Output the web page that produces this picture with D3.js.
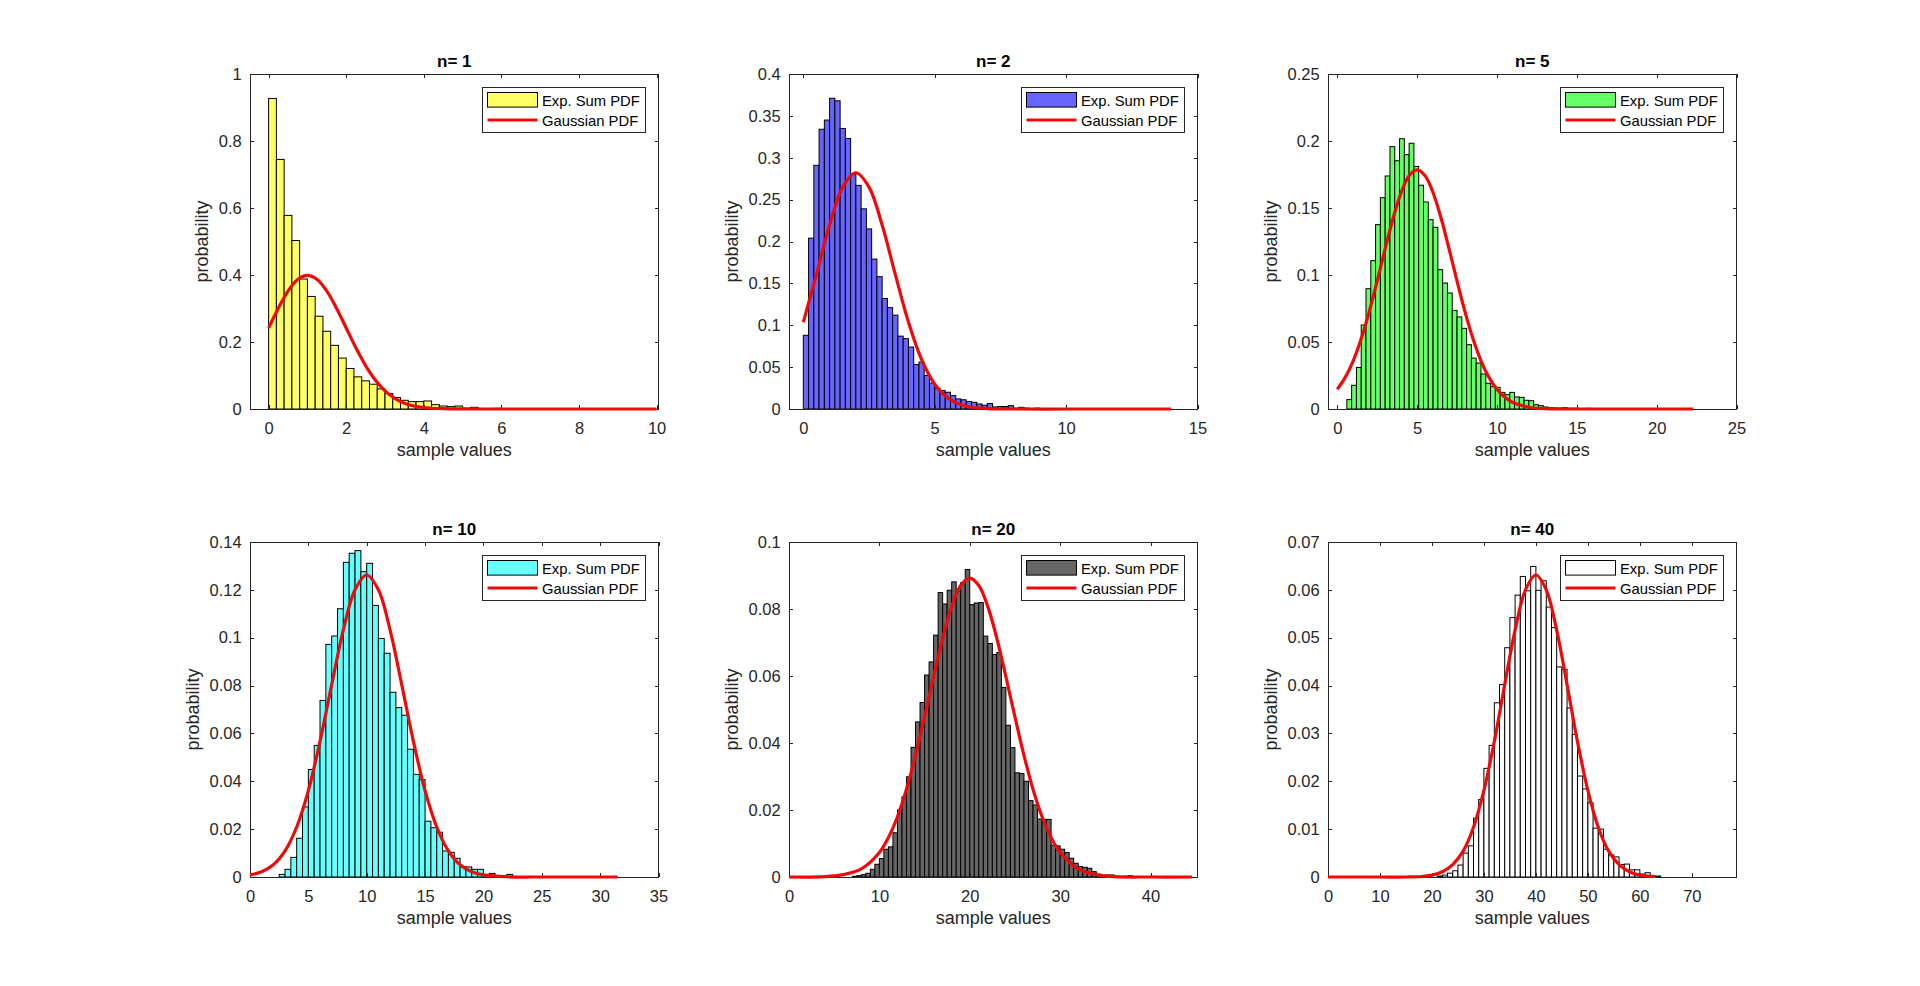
<!DOCTYPE html>
<html>
<head>
<meta charset="utf-8">
<script src="https://cdn.jsdelivr.net/npm/d3@7"></script>
<style>
html,body{margin:0;padding:0;background:#fff;}
svg{display:block;}
</style>
</head>
<body>
<svg id="chart" width="1920" height="986"></svg>
<script>
// ---------------- DATA ----------------
const panelTitles = ["n= 1", "n= 2", "n= 5", "n= 10", "n= 20", "n= 40"];
const xLabelText = "sample values";
const yLabelText = "probability";
const legendLabels = ["Exp. Sum PDF", "Gaussian PDF"];

// histogram bins: first edge and bin width per panel
const binStart = [0, 0, 0.6, 2.5, 7.0, 21];
const binWidth = [0.2, 0.2, 0.3, 0.5, 0.5, 1];

const probN1 = [0.927, 0.745, 0.578, 0.503, 0.388, 0.336, 0.277, 0.232, 0.190, 0.152, 0.121, 0.096, 0.084, 0.074, 0.060, 0.046, 0.034, 0.026, 0.022, 0.022, 0.024, 0.013, 0.009, 0.007, 0.009, 0.002, 0.005, 0.001, 0.001, 0.002, 0.001];
const probN2 = [0.088, 0.204, 0.291, 0.334, 0.345, 0.371, 0.368, 0.335, 0.323, 0.280, 0.267, 0.239, 0.215, 0.179, 0.158, 0.132, 0.121, 0.112, 0.087, 0.084, 0.074, 0.053, 0.056, 0.040, 0.031, 0.025, 0.022, 0.020, 0.016, 0.012, 0.011, 0.009, 0.008, 0.006, 0.0045, 0.0065, 0.0025, 0.003, 0.003, 0.004, 0.001, 0.002, 0.001, 0.0005, 0.001, 0, 0.0005, 0.0003, 0.0003, 0, 0.0003, 0, 0.0004];
const probN5 = [0.007, 0.0177, 0.031, 0.0627, 0.0898, 0.1107, 0.1376, 0.1577, 0.1739, 0.1958, 0.1853, 0.2017, 0.1898, 0.1983, 0.181, 0.167, 0.1545, 0.1413, 0.1356, 0.104, 0.094, 0.0866, 0.0736, 0.0687, 0.0602, 0.048, 0.038, 0.0343, 0.0261, 0.0192, 0.0167, 0.0162, 0.0124, 0.0107, 0.0124, 0.009, 0.0087, 0.0065, 0.0062, 0.0032, 0.0025, 0.0015, 0.001, 0.0007, 0.0005, 0.001, 0.0003, 0.0005, 0.0003, 0.0002, 0.0005];
const probN10 = [0.0011, 0.0032, 0.0082, 0.0162, 0.0293, 0.0449, 0.055, 0.0738, 0.0972, 0.1007, 0.1121, 0.1315, 0.1353, 0.1364, 0.1276, 0.1311, 0.1135, 0.0997, 0.0935, 0.0772, 0.0708, 0.0676, 0.0534, 0.0429, 0.0407, 0.0233, 0.0206, 0.0187, 0.0109, 0.0103, 0.0078, 0.0043, 0.0042, 0.0032, 0.0032, 0.0008, 0.0015, 0.0006, 0.0003, 0.0011, 0.0002, 0.0001, 0.0002];
const probN20 = [0.0002, 0.0004, 0.0007, 0.0011, 0.0023, 0.0038, 0.0055, 0.0083, 0.0090, 0.0132, 0.0200, 0.0239, 0.0299, 0.0387, 0.0463, 0.0521, 0.0603, 0.0642, 0.0722, 0.0849, 0.0815, 0.0856, 0.0881, 0.0853, 0.0879, 0.0918, 0.0813, 0.0818, 0.0819, 0.0719, 0.0697, 0.0664, 0.0670, 0.0566, 0.0453, 0.0386, 0.0311, 0.0309, 0.0286, 0.0228, 0.0215, 0.0173, 0.0172, 0.0172, 0.0095, 0.0093, 0.0083, 0.0073, 0.0056, 0.0041, 0.0031, 0.0029, 0.0026, 0.0016, 0.0008, 0.0003, 0.0006, 0.0006, 0.0002, 0.0001, 0.0002, 0.0004, 0.0001, 0, 0, 0, 0.0002];
const probN40 = [0.0002, 0.0004, 0.0008, 0.0013, 0.0025, 0.0050, 0.0065, 0.0123, 0.0162, 0.0227, 0.0275, 0.0364, 0.0402, 0.0479, 0.0542, 0.0589, 0.0628, 0.0598, 0.0649, 0.0599, 0.0619, 0.0564, 0.0521, 0.0439, 0.0434, 0.0353, 0.0298, 0.0211, 0.0184, 0.0155, 0.0102, 0.0100, 0.0058, 0.0046, 0.0042, 0.0026, 0.0027, 0.0015, 0.0015, 0.0006, 0.0009, 0.0002, 0.0002];

// Gaussian PDF curves
const gaussX1 = [0, 0.25, 0.5, 0.75, 1, 1.25, 1.5, 1.75, 2, 2.25, 2.5, 2.75, 3, 3.25, 3.5, 3.75, 4, 4.5, 5, 6, 7, 8, 9, 10];
const gaussY1 = [0.2420, 0.3011, 0.3521, 0.3867, 0.3989, 0.3867, 0.3521, 0.3011, 0.2420, 0.1826, 0.1295, 0.0863, 0.0540, 0.0317, 0.0175, 0.0091, 0.0044, 0.0009, 0.0001, 0, 0, 0, 0, 0];
const gaussX2 = [0, 0.5, 1, 1.5, 2, 2.5, 3, 3.5, 4, 4.5, 5, 5.5, 6, 6.5, 7, 8, 10, 12, 14];
const gaussY2 = [0.1038, 0.1607, 0.2197, 0.2650, 0.2821, 0.2650, 0.2197, 0.1607, 0.1038, 0.0591, 0.0297, 0.0132, 0.0052, 0.0018, 0.0005, 0, 0, 0, 0];
const gaussX3 = [0, 0.5, 1, 1.5, 2, 2.5, 3, 3.5, 4, 4.5, 5, 5.5, 6, 6.5, 7, 7.5, 8, 8.5, 9, 9.5, 10, 10.5, 11, 12, 13, 14, 16, 18, 20, 22.3];
const gaussY3 = [0.0147, 0.0236, 0.0360, 0.0524, 0.0725, 0.0955, 0.1196, 0.1425, 0.1614, 0.1740, 0.1784, 0.1740, 0.1614, 0.1425, 0.1196, 0.0955, 0.0725, 0.0524, 0.0360, 0.0236, 0.0147, 0.0087, 0.0049, 0.0013, 0.0003, 0.0001, 0, 0, 0, 0];
const gaussX4 = [0, 1, 2, 3, 4, 5, 6, 7, 8, 9, 10, 11, 12, 13, 14, 15, 16, 17, 18, 19, 20, 22, 25, 28, 31.5];
const gaussY4 = [0.0009, 0.0022, 0.0051, 0.0109, 0.0209, 0.0361, 0.0567, 0.0804, 0.1033, 0.1200, 0.1262, 0.1200, 0.1033, 0.0804, 0.0567, 0.0361, 0.0209, 0.0109, 0.0051, 0.0022, 0.0009, 0.0001, 0, 0, 0];
const gaussX5 = [0, 4, 6, 8, 10, 11, 12, 13, 14, 15, 16, 17, 18, 19, 20, 21, 22, 23, 24, 25, 26, 27, 28, 29, 30, 32, 34, 36, 40, 44.6];
const gaussY5 = [0, 0.0001, 0.0007, 0.0024, 0.0073, 0.0118, 0.0180, 0.0262, 0.0363, 0.0478, 0.0598, 0.0712, 0.0807, 0.0870, 0.0892, 0.0870, 0.0807, 0.0712, 0.0598, 0.0478, 0.0363, 0.0262, 0.0180, 0.0118, 0.0073, 0.0024, 0.0007, 0.0001, 0, 0];
const gaussX6 = [0, 10, 15, 18, 20, 22, 24, 26, 28, 30, 32, 34, 36, 38, 40, 42, 44, 46, 48, 50, 52, 54, 56, 58, 60, 63];
const gaussY6 = [0, 0, 0, 0.0001, 0.0004, 0.0011, 0.0026, 0.0054, 0.0104, 0.0181, 0.0283, 0.0402, 0.0516, 0.0600, 0.0631, 0.0600, 0.0516, 0.0402, 0.0283, 0.0181, 0.0104, 0.0054, 0.0026, 0.0011, 0.0004, 0.0001];

// axis ticks and limits
const xTicks1 = [0, 2, 4, 6, 8, 10];
const xTicks2 = [0, 5, 10, 15];
const xTicks3 = [0, 5, 10, 15, 20, 25];
const xTicks4 = [0, 5, 10, 15, 20, 25, 30, 35];
const xTicks5 = [0, 10, 20, 30, 40];
const xTicks6 = [0, 10, 20, 30, 40, 50, 60, 70];
const yTicks1 = [0, 0.2, 0.4, 0.6, 0.8, 1];
const yTicks2 = [0, 0.05, 0.1, 0.15, 0.2, 0.25, 0.3, 0.35, 0.4];
const yTicks3 = [0, 0.05, 0.1, 0.15, 0.2, 0.25];
const yTicks4 = [0, 0.02, 0.04, 0.06, 0.08, 0.1, 0.12, 0.14];
const yTicks5 = [0, 0.02, 0.04, 0.06, 0.08, 0.1];
const yTicks6 = [0, 0.01, 0.02, 0.03, 0.04, 0.05, 0.06, 0.07];
const xLimits = [[-0.48, 10.05], [-0.545, 15], [-0.58, 25], [0, 35], [0, 45.2], [0, 78.6]];
const yLimits = [[0, 1], [0, 0.4], [0, 0.25], [0, 0.14], [0, 0.1], [0, 0.07]];

// ---------------- STYLE / LAYOUT ----------------
const faceColors = ["#ffff66", "#6666ff", "#66ff66", "#66ffff", "#666666", "#ffffff"];
const RED = "#ee0a0a";
const AX = "#262626";
const FONT = "'Liberation Sans', Arial, Helvetica, sans-serif";
const colLeft = [250, 789, 1328];
const rowTop = [74, 542];
const axW = 408.5, axH = 335;

const panels = [
  {probs: probN1, gx: gaussX1, gy: gaussY1, xt: xTicks1, yt: yTicks1},
  {probs: probN2, gx: gaussX2, gy: gaussY2, xt: xTicks2, yt: yTicks2},
  {probs: probN5, gx: gaussX3, gy: gaussY3, xt: xTicks3, yt: yTicks3},
  {probs: probN10, gx: gaussX4, gy: gaussY4, xt: xTicks4, yt: yTicks4},
  {probs: probN20, gx: gaussX5, gy: gaussY5, xt: xTicks5, yt: yTicks5},
  {probs: probN40, gx: gaussX6, gy: gaussY6, xt: xTicks6, yt: yTicks6}
];

const svg = d3.select("#chart");
svg.append("rect").attr("width", 1920).attr("height", 986).attr("fill", "#fff");
const fmt = d3.format("~g");

panels.forEach((p, i) => {
  const left = colLeft[i % 3], top = rowTop[Math.floor(i / 3)];
  const g = svg.append("g").attr("transform", `translate(${left},${top})`);
  const x = d3.scaleLinear().domain(xLimits[i]).range([0, axW]);
  const y = d3.scaleLinear().domain(yLimits[i]).range([axH, 0]);
  const w = binWidth[i], s = binStart[i];

  // bars
  const bins = p.probs.map((v, k) => ({x0: s + k * w, v})).filter(d => d.v > 0);
  g.append("g").selectAll("rect").data(bins).join("rect")
    .attr("x", d => x(d.x0))
    .attr("width", d => x(d.x0 + w) - x(d.x0))
    .attr("y", d => y(d.v))
    .attr("height", d => y(0) - y(d.v))
    .attr("fill", faceColors[i])
    .attr("stroke", "#000")
    .attr("stroke-width", 1);

  // axes
  const styleAxis = (sel) => {
    sel.select(".domain").remove();
    sel.attr("font-family", FONT).attr("font-size", 16.5);
    sel.selectAll("line").attr("stroke", AX).attr("shape-rendering", "crispEdges");
    sel.selectAll("text").attr("fill", AX);
  };
  const gx = g.append("g").attr("transform", `translate(0,${axH})`)
    .call(d3.axisBottom(x).tickValues(p.xt).tickSize(-4).tickSizeOuter(0).tickPadding(13.5).tickFormat(fmt));
  styleAxis(gx);
  const gy = g.append("g")
    .call(d3.axisLeft(y).tickValues(p.yt).tickSize(-4).tickSizeOuter(0).tickPadding(8.3).tickFormat(fmt));
  styleAxis(gy);
  const gt = g.append("g").call(d3.axisTop(x).tickValues(p.xt).tickSize(-4).tickSizeOuter(0).tickFormat(""));
  styleAxis(gt);
  const gr = g.append("g").attr("transform", `translate(${axW},0)`)
    .call(d3.axisRight(y).tickValues(p.yt).tickSize(-4).tickSizeOuter(0).tickFormat(""));
  styleAxis(gr);

  g.append("rect").attr("x", 0).attr("y", 0).attr("width", axW).attr("height", axH)
    .attr("fill", "none").attr("stroke", AX).attr("stroke-width", 1).attr("shape-rendering", "crispEdges");

  // gaussian line
  const pts = p.gx.map((xv, k) => [xv, p.gy[k]]);
  g.append("path").datum(pts)
    .attr("d", d3.line().x(d => x(d[0])).y(d => y(d[1])).curve(d3.curveCatmullRom.alpha(0.5)))
    .attr("fill", "none").attr("stroke", RED).attr("stroke-width", 3.2)
    .attr("stroke-linejoin", "round").attr("stroke-linecap", "butt");

  // labels
  g.append("text").attr("x", axW / 2).attr("y", -7.5).attr("text-anchor", "middle")
    .attr("font-family", FONT).attr("font-size", 17).attr("font-weight", "bold").attr("fill", "#000")
    .text(panelTitles[i]);
  g.append("text").attr("x", axW / 2).attr("y", axH + 46.5).attr("text-anchor", "middle")
    .attr("font-family", FONT).attr("font-size", 18).attr("fill", AX)
    .text(xLabelText);
  const tw = d3.max(gy.selectAll("text").nodes(), n => n.getComputedTextLength());
  const bx = -tw - 8.3 - 10.6;
  g.append("text").attr("transform", `translate(${bx},${axH / 2}) rotate(-90)`)
    .attr("text-anchor", "middle")
    .attr("font-family", FONT).attr("font-size", 18).attr("fill", AX)
    .text(yLabelText);

  // legend
  const lg = g.append("g").attr("transform", `translate(${axW - 176},${13.5})`);
  lg.append("rect").attr("width", 163).attr("height", 45).attr("fill", "#fff")
    .attr("stroke", AX).attr("stroke-width", 1).attr("shape-rendering", "crispEdges");
  lg.append("rect").attr("x", 5).attr("y", 5).attr("width", 50).attr("height", 14.6)
    .attr("fill", faceColors[i]).attr("stroke", "#000").attr("stroke-width", 1);
  lg.append("line").attr("x1", 5).attr("x2", 55).attr("y1", 32.5).attr("y2", 32.5)
    .attr("stroke", RED).attr("stroke-width", 3.2);
  lg.append("text").attr("x", 59.5).attr("y", 18).attr("font-family", FONT)
    .attr("font-size", 14.8).attr("fill", "#000").text(legendLabels[0]);
  lg.append("text").attr("x", 59.5).attr("y", 38).attr("font-family", FONT)
    .attr("font-size", 14.8).attr("fill", "#000").text(legendLabels[1]);
});
</script>
</body>
</html>
